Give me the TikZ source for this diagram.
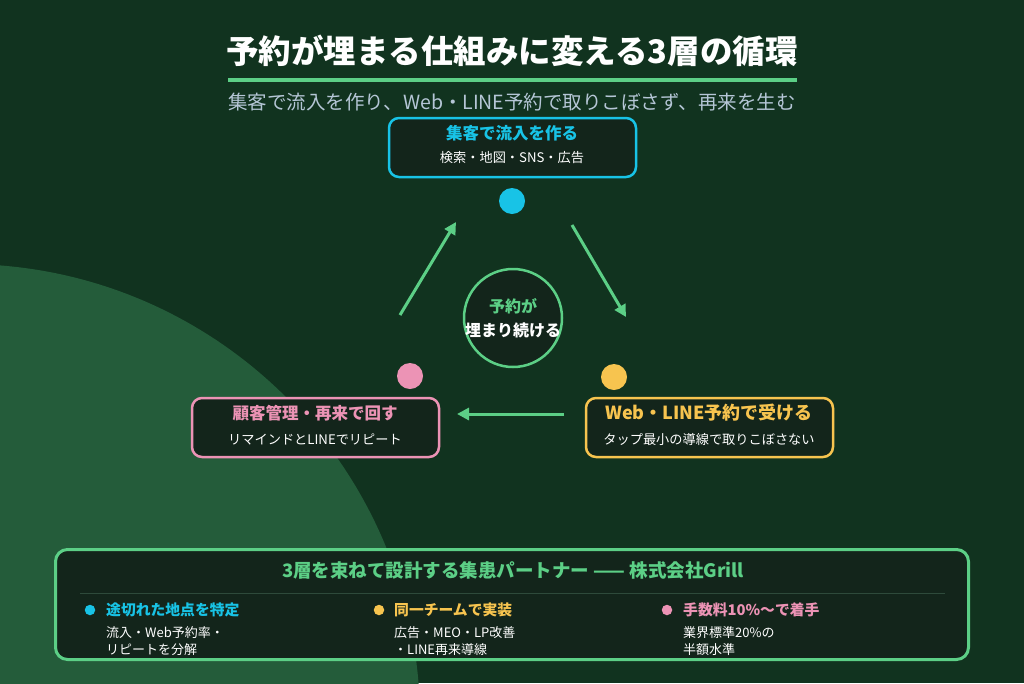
\documentclass[tikz,border=0pt]{standalone}
\usepackage{fontspec}
\setmainfont{Noto Sans CJK JP}
\usetikzlibrary{arrows.meta}
\definecolor{bg}{HTML}{11331F}
\definecolor{blob}{HTML}{245C3A}
\definecolor{panel}{HTML}{13251B}
\definecolor{acc}{HTML}{5CCF86}
\definecolor{cy}{HTML}{18C3E6}
\definecolor{ye}{HTML}{F7C44F}
\definecolor{pk}{HTML}{EC93B5}
\definecolor{subc}{HTML}{B5C6D6}
\definecolor{sepc}{HTML}{2E4A3B}
\newcommand{\fs}[1]{\fontsize{#1}{#1}\selectfont}
\begin{document}
\begin{tikzpicture}[x=1pt,y=-1pt,
  card/.style={draw=#1, line width=2.5pt, fill=panel, rounded corners=10pt, minimum width=247pt, minimum height=59pt, inner sep=0pt},
  dot/.style={circle, fill=#1, minimum size=26pt, inner sep=0pt},
  bul/.style={circle, fill=#1, minimum size=10.5pt, inner sep=0pt},
  flow/.style={draw=acc, line width=3pt, -{Triangle[length=12pt,width=12pt]}},
  ctitle/.style={text=#1, font=\fs{16.5}\bfseries, inner sep=0pt},
  csub/.style={text=white, font=\fs{13.2}, inner sep=0pt},
  chead/.style={text=#1, font=\fs{14.8}\bfseries, anchor=west, inner sep=0pt},
  cbody/.style={text=white, font=\fs{13}, anchor=west, inner sep=0pt}]
\useasboundingbox (0,0) rectangle (1024,683);
\fill[bg] (0,0) rectangle (1024,683);
\begin{scope}
  \clip (0,0) rectangle (1024,683);
  \fill[blob] (-36,720) circle[radius=456];
\end{scope}

% title
\node[text=white, font=\fs{32.5}\bfseries, inner sep=0pt] (title) at (512,51) {予約が埋まる仕組みに変える3層の循環};
\draw[acc, line width=4pt] (228,80) -- (797,80);
\node[text=subc, font=\fs{19.5}, inner sep=0pt] (subtitle) at (512,102) {集客で流入を作り、Web・LINE予約で取りこぼさず、再来を生む};

% cards
\node[card=cy] (top) at (512.5,147.5) {};
\node[ctitle=cy] (topT) at (512,133) {集客で流入を作る};
\node[csub] (topS) at (512,158) {検索・地図・SNS・広告};

\node[card=pk] (left) at (315.5,427.5) {};
\node[ctitle=pk] (leftT) at (315,413) {顧客管理・再来で回す};
\node[csub] (leftS) at (315,439) {リマインドとLINEでリピート};

\node[card=ye] (right) at (709.5,427.5) {};
\node[ctitle=ye, font=\fs{18}\bfseries] (rightT) at (709,413) {Web・LINE予約で受ける};
\node[csub] (rightS) at (709,439) {タップ最小の導線で取りこぼさない};

% dots
\node[dot=cy] (dtop) at (512,201) {};
\node[dot=pk] (dleft) at (410,376) {};
\node[dot=ye] (dright) at (614,377) {};

% center
\node[circle, draw=acc, line width=2.5pt, fill=panel, minimum size=98pt, inner sep=0pt] (hub) at (513,318) {};
\node[text=acc, font=\fs{16}\bfseries, inner sep=0pt] (hubA) at (513,306) {予約が};
\node[text=white, font=\fs{16}\bfseries, inner sep=0pt] (hubB) at (513,330) {埋まり続ける};

% arrows
\coordinate (a1s) at (400,315);
\coordinate (a1e) at (456,222);
\coordinate (a2s) at (572,225);
\coordinate (a2e) at (626,317);
\coordinate (a3s) at (564,414);
\coordinate (a3e) at (457,414);
\draw[flow] (a1s) -- (a1e);
\draw[flow] (a2s) -- (a2e);
\draw[flow] (a3s) -- (a3e);

% bottom panel
\node[draw=acc, line width=3pt, fill=panel, rounded corners=12pt, minimum width=913pt, minimum height=110pt, inner sep=0pt] (panelbox) at (512,604.5) {};
\node[text=acc, font=\fs{18.5}\bfseries, inner sep=0pt] (ptitle) at (513,570) {3層を束ねて設計する集患パートナー —— 株式会社Grill};
\draw[sepc, line width=1pt] (80,593) -- (945,593);

\node[bul=cy] (b1) at (90,610) {};
\node[chead=cy] (h1) at (106,610) {途切れた地点を特定};
\node[cbody] (t1a) at (106,633) {流入・Web予約率・};
\node[cbody] (t1b) at (106,650) {リピートを分解};

\node[bul=ye] (b2) at (379,610) {};
\node[chead=ye] (h2) at (394,610) {同一チームで実装};
\node[cbody] (t2a) at (394,633) {広告・MEO・LP改善};
\node[cbody] (t2b) at (394,650) {・LINE再来導線};

\node[bul=pk] (b3) at (667,610) {};
\node[chead=pk] (h3) at (683,610) {手数料10\%〜で着手};
\node[cbody] (t3a) at (683,633) {業界標準20\%の};
\node[cbody] (t3b) at (683,650) {半額水準};
\end{tikzpicture}
\end{document}
